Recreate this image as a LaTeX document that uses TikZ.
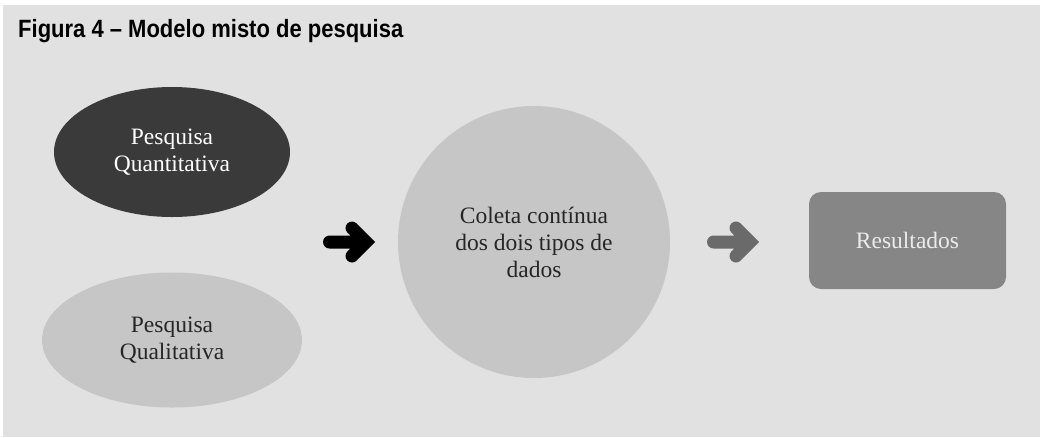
\documentclass[tikz,border=0pt]{standalone}
\usepackage{fontspec}
\setmainfont{Liberation Serif}
\newfontfamily\titlefont[FakeStretch=0.88]{Liberation Sans}
\usetikzlibrary{shapes.geometric}
\definecolor{bgc}{HTML}{E1E1E1}
\definecolor{darkc}{HTML}{3A3A3A}
\definecolor{lightc}{HTML}{C6C6C6}
\definecolor{midc}{HTML}{868686}
\definecolor{arrc}{HTML}{6A6A6A}
\begin{document}
\begin{tikzpicture}[x=1pt,y=-1pt,
  lbl/.style={font=\fontsize{23.5}{27}\selectfont, align=center},
  fatarrow/.style={line width=13pt, line cap=round, line join=miter}]
\useasboundingbox (0,0) rectangle (1040,437);
\fill[white] (0,0) rectangle (1040,437);
\fill[bgc] (3,5) rectangle (1040,437);
\node[anchor=base west, inner sep=0pt, font=\titlefont\bfseries\fontsize{25}{30}\selectfont] (title) at (18,37) {Figura 4 – Modelo misto de pesquisa};
\node[ellipse, fill=darkc, minimum width=236pt, minimum height=130pt, inner sep=0pt] (quant) at (172,152) {};
\node[lbl, text=white] (quantt) at (quant.center) {Pesquisa\\Quantitativa};
\node[ellipse, fill=lightc, minimum width=260pt, minimum height=135pt, inner sep=0pt] (qual) at (172,340) {};
\node[lbl, text=black!85] (qualt) at (qual.center) {Pesquisa\\Qualitativa};
\node[circle, fill=lightc, minimum size=272pt, inner sep=0pt] (coleta) at (534,242) {};
\node[lbl, text=black!85] (coletat) at (coleta.center) {Coleta contínua\\dos dois tipos de\\dados};
\node[rounded corners=12pt, fill=midc, minimum width=197pt, minimum height=97pt] (res) at (907.5,240.5) {};
\node[lbl, text=white!92!black] (rest) at (res.center) {Resultados};
% black arrow
\coordinate (a1s) at (329.5,242);
\coordinate (a1t) at (366,242);
\coordinate (a1u) at (352,228);
\coordinate (a1d) at (352,256);
\draw[fatarrow, black] (a1s) -- (a1t) (a1u) -- (a1t) -- (a1d);
% gray arrow
\coordinate (a2s) at (713.5,242);
\coordinate (a2t) at (750,242);
\coordinate (a2u) at (736,228);
\coordinate (a2d) at (736,256);
\draw[fatarrow, arrc] (a2s) -- (a2t) (a2u) -- (a2t) -- (a2d);
\end{tikzpicture}
\end{document}
